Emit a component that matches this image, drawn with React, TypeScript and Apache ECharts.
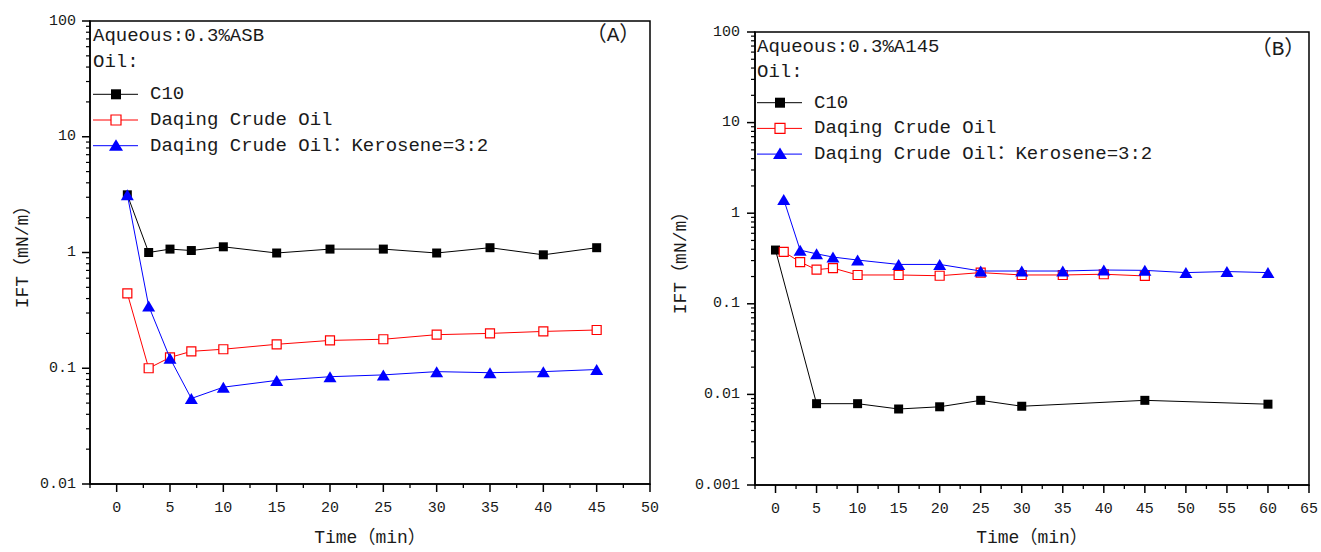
import React, { useEffect, useRef } from "react";
import * as echarts from "echarts";

// ---------- data ----------
const timeA_C10 = [1, 3, 5, 7, 10, 15, 20, 25, 30, 35, 40, 45];
const iftA_C10 = [3.15, 1.0, 1.07, 1.04, 1.12, 0.99, 1.07, 1.07, 0.99, 1.1, 0.955, 1.1];
const timeA_Daqing = [1, 3, 5, 7, 10, 15, 20, 25, 30, 35, 40, 45];
const iftA_Daqing = [0.443, 0.1, 0.124, 0.14, 0.146, 0.161, 0.174, 0.178, 0.195, 0.2, 0.208, 0.214];
const timeA_Kero = [1, 3, 5, 7, 10, 15, 20, 25, 30, 35, 40, 45];
const iftA_Kero = [3.15, 0.345, 0.122, 0.0548, 0.0686, 0.0785, 0.0845, 0.0876, 0.0935, 0.0915, 0.0935, 0.0975];

const timeB_C10 = [0, 5, 10, 15, 20, 25, 30, 45, 60];
const iftB_C10 = [0.392, 0.0079, 0.0079, 0.0069, 0.0073, 0.0086, 0.0074, 0.0086, 0.0078];
const timeB_Daqing = [1, 3, 5, 7, 10, 15, 20, 25, 30, 35, 40, 45];
const iftB_Daqing = [0.375, 0.289, 0.238, 0.248, 0.208, 0.208, 0.204, 0.221, 0.208, 0.208, 0.212, 0.203];
const timeB_Kero = [1, 3, 5, 7, 10, 15, 20, 25, 30, 35, 40, 45, 50, 55, 60];
const iftB_Kero = [1.42, 0.391, 0.356, 0.328, 0.304, 0.272, 0.272, 0.23, 0.23, 0.23, 0.236, 0.234, 0.221, 0.227, 0.221];

const seriesNames = ["C10", "Daqing Crude Oil", "Daqing Crude Oil：Kerosene=3:2"];
const seriesColors = ["#000000", "#ff0000", "#0000ff"];

const xTicksA = [0, 5, 10, 15, 20, 25, 30, 35, 40, 45, 50];
const xMinorA = [-2.5, 2.5, 7.5, 12.5, 17.5, 22.5, 27.5, 32.5, 37.5, 42.5, 47.5];
const xTicksB = [0, 5, 10, 15, 20, 25, 30, 35, 40, 45, 50, 55, 60, 65];
const xMinorB = [-2.5, 2.5, 7.5, 12.5, 17.5, 22.5, 27.5, 32.5, 37.5, 42.5, 47.5, 52.5, 57.5, 62.5];
const yTicksA = [0.01, 0.1, 1, 10, 100];
const yMinorA = [0.02, 0.03, 0.04, 0.05, 0.06, 0.07, 0.08, 0.09, 0.2, 0.3, 0.4, 0.5, 0.6, 0.7, 0.8, 0.9, 2, 3, 4, 5, 6, 7, 8, 9, 20, 30, 40, 50, 60, 70, 80, 90];
const yTicksB = [0.001, 0.01, 0.1, 1, 10, 100];
const yMinorB = [0.002, 0.003, 0.004, 0.005, 0.006, 0.007, 0.008, 0.009, 0.02, 0.03, 0.04, 0.05, 0.06, 0.07, 0.08, 0.09, 0.2, 0.3, 0.4, 0.5, 0.6, 0.7, 0.8, 0.9, 2, 3, 4, 5, 6, 7, 8, 9, 20, 30, 40, 50, 60, 70, 80, 90];

const FONT = "'Liberation Mono', 'Noto Sans CJK SC', monospace";
const TEXT = "#1a1a1a";
const MAJOR_LEN = 8;
const MINOR_LEN = 4;

function pairs(xs: number[], ys: number[]) {
  return xs.map((x, i) => [x, ys[i]]);
}

function makeX(grid: number, max: number, major: number[], gap: number) {
  return {
    type: "value",
    gridIndex: grid,
    min: -2.5,
    max,
    name: "Time（min）",
    nameLocation: "middle",
    nameGap: gap,
    nameTextStyle: { fontFamily: FONT, fontSize: 18, color: TEXT },
    splitLine: { show: false },
    axisLine: { show: true, onZero: false, lineStyle: { color: "#000", width: 1.5 } },
    axisTick: { show: false },
    axisLabel: { customValues: major, margin: 17, fontFamily: FONT, fontSize: 15, color: TEXT },
  };
}

function makeY(grid: number, min: number, major: number[], gap: number, margin: number) {
  return {
    type: "log",
    logBase: 10,
    gridIndex: grid,
    min,
    max: 100,
    name: "IFT（mN/m）",
    nameLocation: "middle",
    nameRotate: 90,
    nameGap: gap,
    nameTextStyle: { fontFamily: FONT, fontSize: 18, color: TEXT },
    splitLine: { show: false },
    minorTick: { show: false },
    axisLine: { show: true, onZero: false, lineStyle: { color: "#000", width: 1.5 } },
    axisTick: { show: false },
    axisLabel: {
      customValues: major,
      margin,
      fontFamily: FONT,
      fontSize: 15,
      color: TEXT,
      formatter: (v: number) => String(v),
    },
  };
}

function makeSeries(idx: number, d: number[][][]) {
  return [
    { name: seriesNames[0], type: "line", xAxisIndex: idx, yAxisIndex: idx, data: d[0], symbol: "rect", symbolSize: 9, z: 3,
      itemStyle: { color: seriesColors[0] }, lineStyle: { color: seriesColors[0], width: 1 } },
    { name: seriesNames[1], type: "line", xAxisIndex: idx, yAxisIndex: idx, data: d[1], symbol: "rect", symbolSize: 9, z: 4,
      itemStyle: { color: "#fff", borderColor: seriesColors[1], borderWidth: 1.2 }, lineStyle: { color: seriesColors[1], width: 1 } },
    { name: seriesNames[2], type: "line", xAxisIndex: idx, yAxisIndex: idx, data: d[2], symbol: "triangle", symbolSize: [13, 11], z: 5,
      itemStyle: { color: seriesColors[2] }, lineStyle: { color: seriesColors[2], width: 1 } },
  ];
}

function legendGraphic(x0: number, y0: number, step: number) {
  const els: any[] = [];
  seriesNames.forEach((name, i) => {
    const y = y0 + i * step;
    const c = seriesColors[i];
    const cx = x0 + 23;
    els.push({ type: "line", z: 100, shape: { x1: x0, y1: y, x2: x0 + 45, y2: y }, style: { stroke: c, lineWidth: 1 } });
    if (i === 0) {
      els.push({ type: "rect", z: 101, shape: { x: cx - 5, y: y - 5, width: 10, height: 10 }, style: { fill: c } });
    } else if (i === 1) {
      els.push({ type: "rect", z: 101, shape: { x: cx - 5, y: y - 5, width: 10, height: 10 }, style: { fill: "#fff", stroke: c, lineWidth: 1.2 } });
    } else {
      els.push({ type: "polygon", z: 101, shape: { points: [[cx, y - 6.5], [cx - 7, y + 5], [cx + 7, y + 5]] }, style: { fill: c } });
    }
    els.push({ type: "text", z: 101, x: x0 + 57, y,
      style: { text: name, fontFamily: FONT, fontSize: 19, fill: TEXT, align: "left", verticalAlign: "middle" } });
  });
  return els;
}

function label(x: number, y: number, text: string, align = "left", size = 19) {
  return { type: "text", x, y, z: 100,
    style: { text, fontFamily: FONT, fontSize: size, fill: TEXT, align, verticalAlign: "middle" } };
}

// tick marks positioned with the chart's own axis scales
function tickGraphics(chart: any, idx: number, xMin: number, yMin: number, xMajor: number[], xMinor: number[], yMajor: number[], yMinor: number[]) {
  const els: any[] = [];
  const toPx = (xv: number, yv: number) => {
    const px = chart.convertToPixel({ xAxisIndex: idx }, xv);
    const py = chart.convertToPixel({ yAxisIndex: idx }, yv);
    return [Number(px), Number(py)];
  };
  const xTick = (v: number, len: number, w: number) => {
    const p = toPx(v, yMin);
    if (!isFinite(p[0]) || !isFinite(p[1])) return;
    els.push({ type: "line", z: 120, silent: true, shape: { x1: p[0], y1: p[1], x2: p[0], y2: p[1] + len }, style: { stroke: "#000", lineWidth: w } });
  };
  const yTick = (v: number, len: number, w: number) => {
    const p = toPx(xMin, v);
    if (!isFinite(p[0]) || !isFinite(p[1])) return;
    els.push({ type: "line", z: 120, silent: true, shape: { x1: p[0] - len, y1: p[1], x2: p[0], y2: p[1] }, style: { stroke: "#000", lineWidth: w } });
  };
  xMajor.forEach((v) => xTick(v, MAJOR_LEN, 1.5));
  xMinor.forEach((v) => xTick(v, MINOR_LEN, 1.3));
  yMajor.forEach((v) => yTick(v, MAJOR_LEN, 1.5));
  yMinor.forEach((v) => yTick(v, MINOR_LEN, 1.2));
  return els;
}

export default function App() {
  const ref = useRef<HTMLDivElement>(null);
  useEffect(() => {
    if (!ref.current) return;
    const chart = echarts.init(ref.current, null, { renderer: "svg" });
    const baseGraphics = [
      label(93, 36, "Aqueous:0.3%ASB"),
      label(93, 62, "Oil:"),
      label(613, 35, "（A）", "center", 21),
      label(757, 47, "Aqueous:0.3%A145"),
      label(757, 72, "Oil:"),
      label(1278, 49, "（B）", "center", 21),
      ...legendGraphic(93, 94.3, 25.7),
      ...legendGraphic(757, 102.7, 25.7),
    ];
    const option: any = {
      animation: false,
      backgroundColor: "#fff",
      grid: [
        { left: 90, top: 21, width: 560, height: 463, show: true, borderColor: "#000", borderWidth: 1.5, backgroundColor: "transparent" },
        { left: 755, top: 32, width: 556.5, height: 457, show: true, borderColor: "#000", borderWidth: 1.5, backgroundColor: "transparent" },
      ],
      xAxis: [makeX(0, 50, xTicksA, 45), makeX(1, 65, xTicksB, 44)],
      yAxis: [makeY(0, 0.01, yTicksA, 58, 14), makeY(1, 0.001, yTicksB, 65, 15)],
      series: [
        ...makeSeries(0, [pairs(timeA_C10, iftA_C10), pairs(timeA_Daqing, iftA_Daqing), pairs(timeA_Kero, iftA_Kero)]),
        ...makeSeries(1, [pairs(timeB_C10, iftB_C10), pairs(timeB_Daqing, iftB_Daqing), pairs(timeB_Kero, iftB_Kero)]),
      ],
      graphic: baseGraphics,
    };
    chart.setOption(option);
    let ticks: any[] = [];
    try {
      ticks = [
        ...tickGraphics(chart, 0, -2.5, 0.01, xTicksA, xMinorA, yTicksA, yMinorA),
        ...tickGraphics(chart, 1, -2.5, 0.001, xTicksB, xMinorB, yTicksB, yMinorB),
      ];
    } catch (e) {
      ticks = [];
    }
    chart.setOption({ graphic: [...baseGraphics, ...ticks] }, { replaceMerge: ["graphic"] });
    return () => chart.dispose();
  }, []);
  return <div ref={ref} style={{ position: "absolute", left: 0, top: 0, width: 1321, height: 552 }} />;
}
